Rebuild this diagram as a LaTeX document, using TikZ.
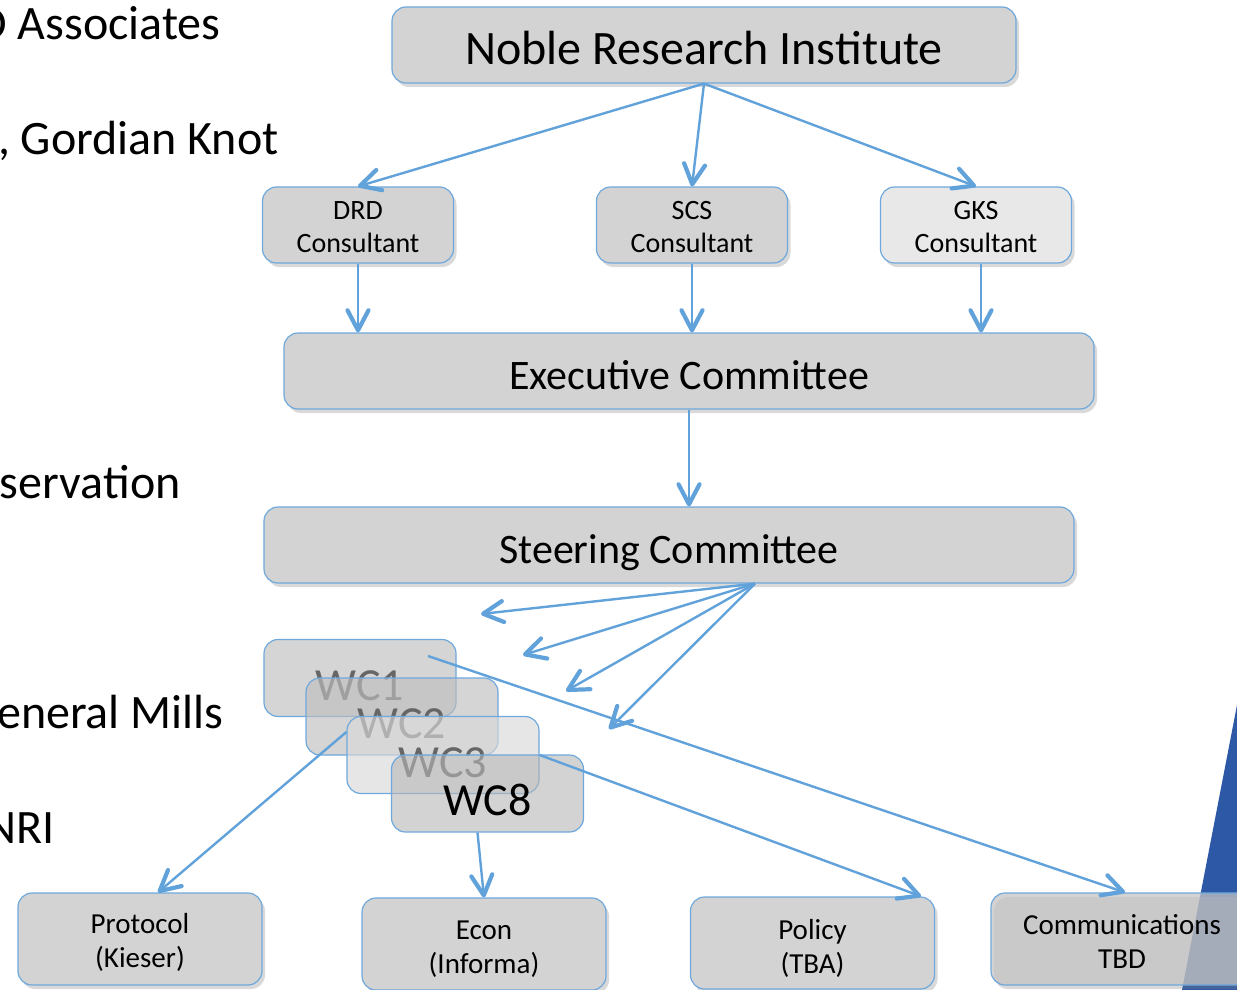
\documentclass[tikz,border=0pt]{standalone}
\usepackage{fontspec}
\setmainfont{Carlito}
\usetikzlibrary{arrows.meta,shadows}
\definecolor{linkblue}{RGB}{98,162,218}
\definecolor{edgeblue}{RGB}{111,168,220}
\definecolor{boxgray}{RGB}{211,211,211}
\definecolor{paleboxgray}{RGB}{232,232,232}
\definecolor{wcgray}{RGB}{190,190,190}
\definecolor{wcpale}{RGB}{217,217,217}
\definecolor{wcdark}{RGB}{182,182,182}
\definecolor{slideblue}{RGB}{44,88,166}
\begin{document}
\begin{tikzpicture}[x=0.5pt,y=-0.5pt,
    box/.style={draw=edgeblue, line width=0.6pt, fill=boxgray, rounded corners=7pt,
      align=center, inner sep=0pt,
      drop shadow={shadow xshift=1.5pt, shadow yshift=-2pt, opacity=0.3}},
    wide/.style={box, minimum height=38pt, text height=18.5pt, text depth=0pt,
      font=\fontsize{21}{25}\selectfont},
    consult/.style={box, minimum width=95.5pt, minimum height=38pt,
      text height=30pt, text depth=3pt, font=\fontsize{14}{16.5}\selectfont},
    wcbox/.style={draw=edgeblue, line width=0.6pt, rounded corners=7pt, inner sep=0pt,
      minimum width=96pt, minimum height=38.5pt, fill=wcgray,
      fill opacity=0.65, text opacity=1, text=black!60, text height=22pt, text depth=0pt,
      font=\fontsize{23}{27}\selectfont},
    leaf/.style={box, minimum width=122pt, minimum height=46pt,
      text height=31pt, text depth=3pt, font=\fontsize{14.5}{17}\selectfont},
    sidetext/.style={anchor=base east, inner sep=0pt, font=\fontsize{24}{28}\selectfont},
    link/.style={draw=linkblue, line width=1.2pt,
      -{Straight Barb[length=10pt, width=10.5pt, line width=2.1pt, round]}}]
  \useasboundingbox (0,0) rectangle (1237,990);
  \clip (0,0) rectangle (1237,990);

  % Slide text behind the chart
  \node[sidetext] (assoc) at (221,40) {D Associates};
  \node[sidetext] (gordian) at (279,155) {, Gordian Knot};
  \node[sidetext] (conserv) at (181,498) {servation};
  \node[sidetext] (mills) at (224,728) {eneral Mills};
  \node[sidetext] (nri) at (55,843) {NRI};
  \fill[slideblue] (1237,705) -- (1182,990) -- (1240,990) -- cycle;

  % Top levels
  \node[wide, minimum width=312pt, text height=20pt, font=\fontsize{24}{28}\selectfont] (noble) at (704,45) {Noble Research Institute};
  \node[consult] (drd) at (358,225) {DRD\\Consultant};
  \node[consult] (scs) at (692,225) {SCS\\Consultant};
  \node[consult, fill=paleboxgray] (gks) at (976,225) {GKS\\Consultant};
  \node[wide, minimum width=405pt] (exec) at (689,371) {Executive Committee};
  \node[wide, minimum width=405pt] (steer) at (669,545) {Steering Committee};

  % Working committees
  \node[wcbox] (wc1) at (360,678) {WC1};
  \node[wcbox] (wc2) at (402,716.5) {WC2};
  \node[wcbox, fill=wcpale] (wc3) at (443,755) {WC3};
  \node[wcbox, fill=wcdark, fill opacity=0.6, text=black] (wc8) at (487.5,793.5) {WC8};

  % Bottom row
  \node[leaf] (protocol) at (140,939) {Protocol\\(Kieser)};
  \node[leaf, text height=32pt] (econ) at (484,944) {Econ\\(Informa)};
  \node[leaf, text height=33pt] (policy) at (812.5,943) {Policy\\(TBA)};
  \node[leaf, drop shadow={opacity=0}, fill=black!23, fill opacity=0.75, text opacity=1,
    minimum width=131pt, text height=32pt] (comm) at (1122,939) {Communications\\TBD};

  % Connectors
  \draw[link] (noble.south) -- (drd.north);
  \draw[link] (noble.south) -- (scs.north);
  \draw[link] (noble.south) -- (gks.north);
  \draw[link] (drd.south) -- (drd.south |- exec.north);
  \draw[link] (scs.south) -- (scs.south |- exec.north);
  \draw[link] ([xshift=2.5pt]gks.south) -- ([xshift=2.5pt]gks.south |- exec.north);
  \draw[link] (exec.south) -- (exec.south |- steer.north);

  \coordinate (fan) at ([xshift=43pt]steer.south);
  \foreach \i/\fx/\fy in {1/481/614, 2/523/655, 3/566/691, 4/609/729} {
    \coordinate (free\i) at (\fx,\fy);
    \draw[link] (fan) -- (free\i);
  }

  \draw[link] ([shift={(34pt,11pt)}]wc1.center) -- ([xshift=1.5pt]comm.north);
  \draw[link] (wc3.east) -- ([xshift=-7pt]policy.north east);
  \draw[link] ([yshift=11.5pt]wc3.west) -- ([xshift=9pt]protocol.north);
  \draw[link] ([xshift=-5pt]wc8.south) -- (econ.north);
\end{tikzpicture}
\end{document}
